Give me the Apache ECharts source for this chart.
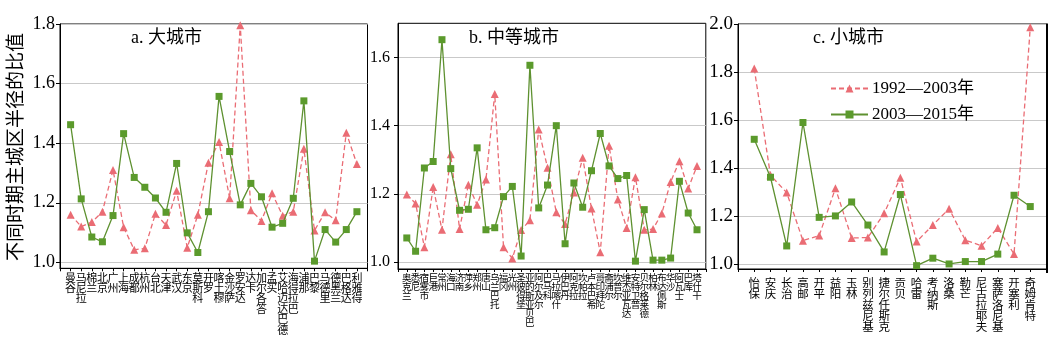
<!DOCTYPE html>
<html><head><meta charset="utf-8">
<script src="https://cdn.jsdelivr.net/npm/echarts@6/dist/echarts.min.js"></script>
<style>html,body{margin:0;padding:0;background:#fff}#c{width:1055px;height:347px}</style>
</head><body><div id="c"></div><script>
// ---------- data ----------
const seriesNames = ['1992—2003年', '2003—2015年'];

const catsA = ['曼谷','马尼拉','棉兰','北京','广州','上海','成都','杭州','台北','天津','武汉','东京','莫斯科','开罗','喀土穆','金沙萨','罗安达','达卡','加尔各答','孟买','艾哈迈达巴德','海得拉巴','浦那','巴黎','马德里','德黑兰','巴格达','利雅得'];
const a1992 = [1.160,1.120,1.135,1.170,1.310,1.118,1.042,1.047,1.163,1.125,1.240,1.049,1.160,1.334,1.404,1.215,1.796,1.175,1.139,1.232,1.156,1.170,1.381,1.107,1.168,1.141,1.435,1.330];
const a2003 = [1.462,1.213,1.085,1.069,1.157,1.432,1.285,1.252,1.216,1.168,1.332,1.099,1.033,1.170,1.557,1.372,1.193,1.265,1.220,1.118,1.131,1.215,1.542,1.004,1.110,1.068,1.110,1.170];

const catsB = ['奥克兰','悉尼','宿雾市','巨港','常州','海口','济南','萍乡','郑州','唐山','乌兰巴托','福冈','光州','圣彼得堡','亚的斯亚贝巴','阿尔及尔','巴马科','马拉喀什','伊巴丹','阿克拉','坎帕拉','卢本巴希','哥印拜陀','斋浦尔','坎普尔','维杰亚瓦达','安特卫普','贝尔格莱德','柏林','布达佩斯','华沙','阿瓦士','巴库','塔什干'];
const b1992 = [1.198,1.172,1.044,1.220,1.095,1.316,1.097,1.227,1.168,1.242,1.493,1.044,1.011,1.094,1.123,1.389,1.277,1.146,1.112,1.204,1.306,1.157,1.029,1.341,1.184,1.100,1.249,1.095,1.097,1.143,1.235,1.296,1.216,1.282];
const b2003 = [1.071,1.032,1.276,1.295,1.652,1.274,1.152,1.155,1.335,1.095,1.101,1.192,1.222,1.018,1.577,1.159,1.226,1.400,1.054,1.232,1.161,1.268,1.377,1.282,1.245,1.254,1.003,1.154,1.006,1.006,1.012,1.237,1.144,1.095];

const catsC = ['怡保','安庆','长治','高邮','开平','益阳','玉林','别列兹尼基','捷尔任斯克','贡贝','哈雷','考纳斯','洛桑','勒芒','尼古拉耶夫','塞萨洛尼基','开塞利','奇姆肯特'];
const c1992 = [1.815,1.370,1.298,1.098,1.119,1.316,1.109,1.111,1.212,1.360,1.094,1.163,1.231,1.100,1.077,1.151,1.042,1.986];
const c2003 = [1.520,1.362,1.076,1.590,1.195,1.201,1.259,1.163,1.051,1.290,0.994,1.025,1.001,1.011,1.011,1.042,1.287,1.240];

const ticksA = [1.0,1.2,1.4,1.6,1.8];
const ticksB = [1.0,1.2,1.4,1.6];
const ticksC = [1.0,1.2,1.4,1.6,1.8,2.0];

const panelTitles = ['a. 大城市','b. 中等城市','c. 小城市'];
const yAxisTitle = '不同时期主城区半径的比值';

// ---------- styling ----------
const RED = '#EA6C74';
const GREEN = '#5B9A2C';
const GREEN_LINE = '#5E9130';
const FONT = "'Liberation Serif', 'Noto Sans CJK SC', serif";

const panels = [
  {cats: catsA, r: a1992, g: a2003, ticks: ticksA, max: 1.8,
   grid: {left: 60, top: 24, width: 307.5, height: 244.3},
   yFont: 18, yMargin: 5, xFont: 11, xLH: 10.4, xMargin: 4},
  {cats: catsB, r: b1992, g: b2003, ticks: ticksB, max: 1.70,
   grid: {left: 398, top: 23.3, width: 307.8, height: 245.7},
   yFont: 16, yMargin: 8, xFont: 9.6, xLH: 8.9, xMargin: 4},
  {cats: catsC, r: c1992, g: c2003, ticks: ticksC, max: 2.0,
   grid: {left: 738, top: 24, width: 308.5, height: 245},
   yFont: 19, yMargin: 5, xFont: 11.5, xLH: 11, xMargin: 8}
];

const pad = arr => [null, ...arr, null];
const padCats = arr => ['', ...arr, ''];

const grids = [], xAxes = [], yAxes = [], series = [];
panels.forEach((p, i) => {
  grids.push(Object.assign({show: true, borderColor: '#000', borderWidth: 1, backgroundColor: 'transparent'}, p.grid));
  xAxes.push({
    type: 'category', gridIndex: i, boundaryGap: false, data: padCats(p.cats),
    axisLine: {show: true, lineStyle: {color: '#000', width: 1}},
    axisTick: {show: true, length: 3, lineStyle: {color: '#000'}},
    axisLabel: {interval: 0, margin: p.xMargin, color: '#000', fontSize: p.xFont, lineHeight: p.xLH,
      fontFamily: "'Noto Sans CJK SC', sans-serif",
      formatter: v => v.split('').join('\n')},
    splitLine: {show: false}
  });
  yAxes.push({
    type: 'value', gridIndex: i, min: 0.98, max: p.max,
    axisLine: {show: true, lineStyle: {color: '#000', width: 1}},
    axisTick: {show: true, inside: false, length: 4, customValues: p.ticks, lineStyle: {color: '#000'}},
    axisLabel: {customValues: p.ticks, formatter: v => v.toFixed(1), color: '#000', fontSize: p.yFont,
      fontFamily: FONT, margin: p.yMargin},
    splitLine: {show: true, lineStyle: {color: '#c9c9c9', width: 1}}
  });
  series.push({
    name: seriesNames[0], type: 'line', xAxisIndex: i, yAxisIndex: i, data: pad(p.r),
    symbol: 'triangle', symbolSize: 8, showAllSymbol: true,
    itemStyle: {color: RED}, lineStyle: {color: RED, width: 1.3, type: [5, 3]}, z: 2
  });
  series.push({
    name: seriesNames[1], type: 'line', xAxisIndex: i, yAxisIndex: i, data: pad(p.g),
    symbol: 'rect', symbolSize: 7, showAllSymbol: true,
    itemStyle: {color: GREEN}, lineStyle: {color: GREEN_LINE, width: 1.3}, z: 3
  });
});

const titlePos = [{left: 131, top: 29}, {left: 469, top: 29}, {left: 813, top: 29}];
const titles = panelTitles.map((t, i) => ({
  text: t, left: titlePos[i].left, top: titlePos[i].top, padding: 0,
  textStyle: {fontSize: 18, fontWeight: 'normal', color: '#000', fontFamily: FONT}
}));

const chart = echarts.init(document.getElementById('c'), null, {renderer: 'canvas'});
chart.setOption({
  animation: false,
  backgroundColor: '#fff',
  title: titles,
  legend: {
    data: seriesNames, orient: 'vertical', left: 830, top: 80, itemWidth: 37, itemHeight: 10, itemGap: 9,
    padding: 0,
    textStyle: {fontSize: 17, color: '#000', fontFamily: FONT, padding: [0, 0, 0, -1]}
  },
  grid: grids, xAxis: xAxes, yAxis: yAxes, series: series,
  graphic: [{
    type: 'text', x: 17, y: 147, rotation: Math.PI / 2,
    style: {text: yAxisTitle, fontSize: 19, fill: '#000', fontFamily: FONT,
      align: 'center', verticalAlign: 'middle'}
  }, {
    type: 'line', shape: {x1: 1047, y1: 23.5, x2: 1047, y2: 273},
    style: {stroke: '#000', lineWidth: 2}, z: 10
  }]
});
</script></body></html>
